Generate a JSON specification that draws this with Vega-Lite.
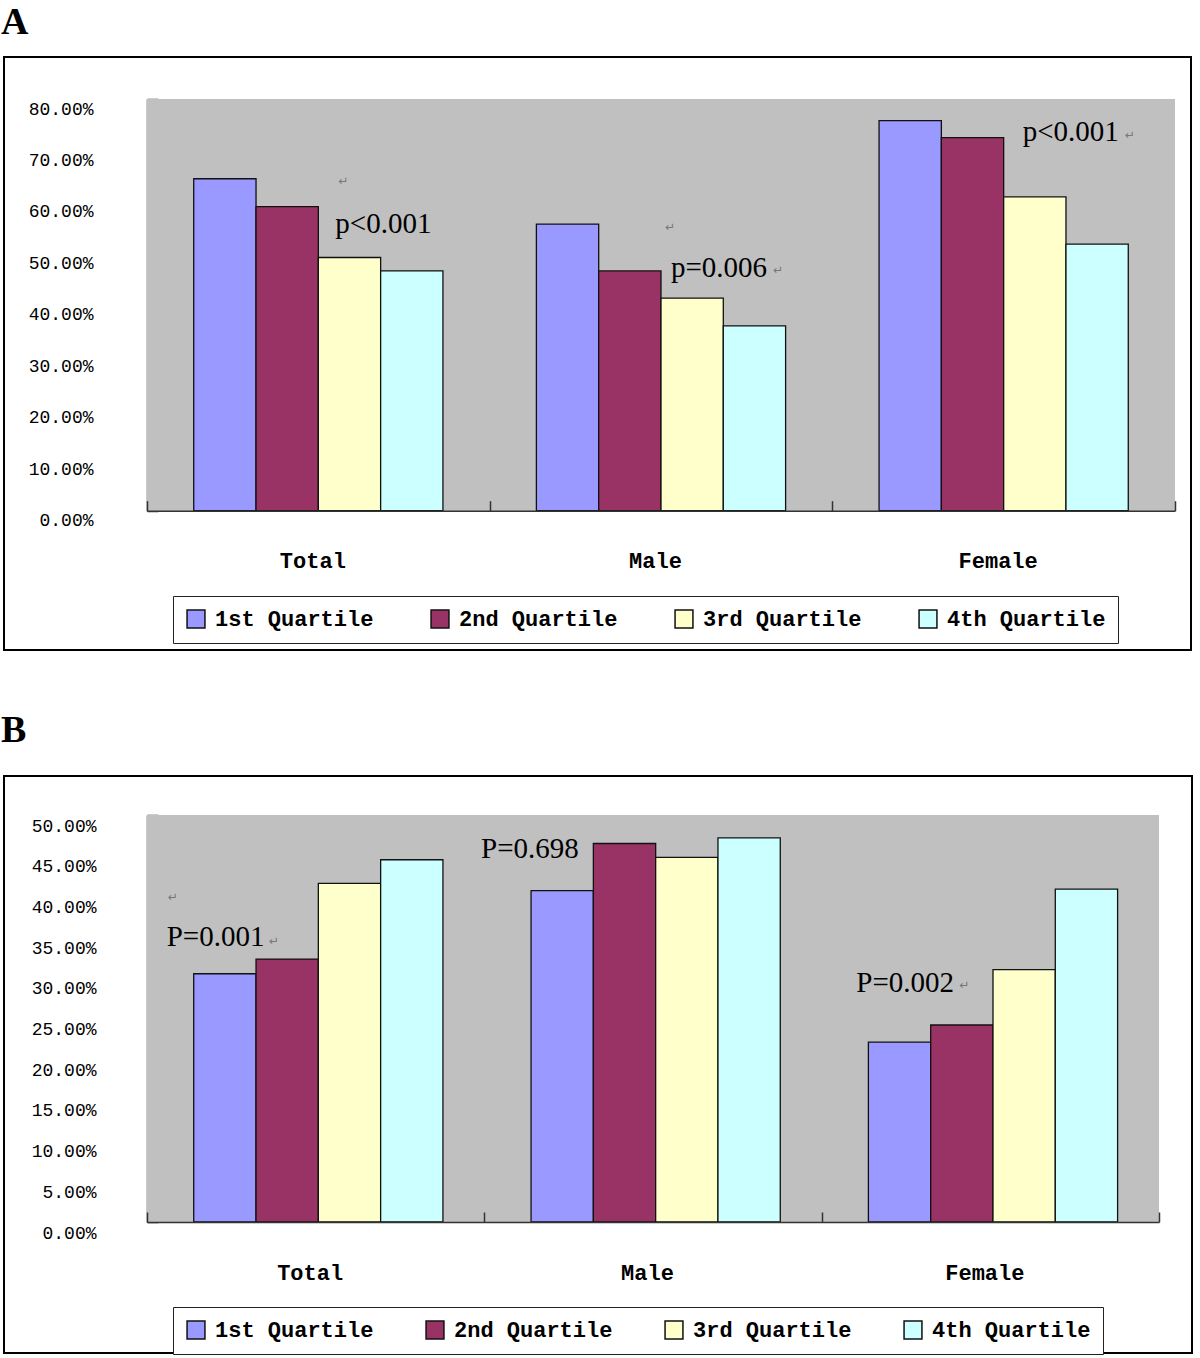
{
  "$schema": "https://vega.github.io/schema/vega-lite/v6.json",
  "padding": {"left": 0, "top": 3, "right": 0, "bottom": 0},
  "spacing": 60,
  "resolve": {"scale": {"color": "independent"}, "legend": {"color": "independent"}},
  "datasets": {
    "a": [
      {"g": "Total", "q": "1st Quartile", "v": 0.645},
      {"g": "Total", "q": "2nd Quartile", "v": 0.591},
      {"g": "Total", "q": "3rd Quartile", "v": 0.492},
      {"g": "Total", "q": "4th Quartile", "v": 0.466},
      {"g": "Male", "q": "1st Quartile", "v": 0.557},
      {"g": "Male", "q": "2nd Quartile", "v": 0.466},
      {"g": "Male", "q": "3rd Quartile", "v": 0.413},
      {"g": "Male", "q": "4th Quartile", "v": 0.359},
      {"g": "Female", "q": "1st Quartile", "v": 0.758},
      {"g": "Female", "q": "2nd Quartile", "v": 0.725},
      {"g": "Female", "q": "3rd Quartile", "v": 0.61},
      {"g": "Female", "q": "4th Quartile", "v": 0.518}
    ],
    "b": [
      {"g": "Total", "q": "1st Quartile", "v": 0.305},
      {"g": "Total", "q": "2nd Quartile", "v": 0.323},
      {"g": "Total", "q": "3rd Quartile", "v": 0.416},
      {"g": "Total", "q": "4th Quartile", "v": 0.445},
      {"g": "Male", "q": "1st Quartile", "v": 0.407},
      {"g": "Male", "q": "2nd Quartile", "v": 0.465},
      {"g": "Male", "q": "3rd Quartile", "v": 0.448},
      {"g": "Male", "q": "4th Quartile", "v": 0.472},
      {"g": "Female", "q": "1st Quartile", "v": 0.221},
      {"g": "Female", "q": "2nd Quartile", "v": 0.242},
      {"g": "Female", "q": "3rd Quartile", "v": 0.31},
      {"g": "Female", "q": "4th Quartile", "v": 0.409}
    ]
  },
  "vconcat": [
    {
      "title": {"text": "A", "anchor": "start", "frame": "group", "font": "Liberation Serif", "fontSize": 38, "fontWeight": "bold", "color": "black", "offset": -23, "baseline": "bottom", "dx": -3},
      "width": 1187,
      "height": 593,
      "view": {"stroke": "black", "strokeWidth": 2, "fill": "white"},
      "data": {"name": "a"},
      "layer": [
        {
          "mark": {"type": "rect", "color": "#C0C0C0"},
          "encoding": {
            "x": {"field": "g", "type": "nominal",
              "scale": {"domain": ["Total", "Male", "Female"], "range": [143, 1171], "paddingInner": 0, "paddingOuter": 0},
              "axis": {"title": null, "orient": "bottom", "offset": -139.3, "labelAngle": 0, "labelFont": "Liberation Mono", "labelFontSize": 22, "labelFontWeight": "bold", "labelColor": "black", "labelOffset": -6, "tickBand": "extent", "tickSize": -10, "tickColor": "#333", "tickWidth": 1.5, "domainColor": "#333", "domainWidth": 1.5, "labelPadding": 50}},
            "y": {"datum": 0, "type": "quantitative",
              "scale": {"domain": [0, 0.8], "range": [453.7, 42], "nice": false},
              "axis": {"title": null, "offset": -143, "values": [0, 0.1, 0.2, 0.3, 0.4, 0.5, 0.6, 0.7, 0.8], "format": ".2%", "labelFont": "Liberation Mono", "labelFontSize": 18, "labelColor": "black", "tickSize": -11, "tickColor": "#333", "tickWidth": 1.5, "domainColor": "#333", "domainWidth": 1.5, "labelPadding": 65, "labelOffset": 10, "grid": false}},
            "y2": {"datum": 0.8}
          }
        },
        {
          "mark": {"type": "bar", "stroke": "#111", "strokeWidth": 1.3},
          "encoding": {
            "x": {"field": "g", "type": "nominal"},
            "xOffset": {"field": "q", "type": "nominal", "scale": {"paddingInner": 0, "paddingOuter": 0.75}},
            "y": {"field": "v", "type": "quantitative"},
            "color": {"field": "q", "type": "nominal",
              "scale": {"domain": ["1st Quartile", "2nd Quartile", "3rd Quartile", "4th Quartile"], "range": ["#9999FF", "#993366", "#FFFFCC", "#CCFFFF"]},
              "legend": {"title": null, "orient": "none", "legendX": 169, "legendY": 539, "direction": "horizontal", "columns": 4, "gridAlign": "all", "columnPadding": 54, "strokeColor": "#222", "fillColor": "white", "padding": 12, "symbolType": "square", "symbolSize": 320, "symbolStrokeColor": "#111", "symbolStrokeWidth": 1.5, "symbolOpacity": 1, "labelFont": "Liberation Mono", "labelFontSize": 22, "labelFontWeight": "bold", "labelColor": "black", "labelOffset": 8, "labelLimit": 400}}
          }
        },
        {
          "data": {"values": [{"g": "Total", "v": 0.557, "t": "p<0.001"}]},
          "mark": {"type": "text", "align": "left", "baseline": "middle", "dx": 17, "font": "Liberation Serif", "fontSize": 29, "color": "black"},
          "encoding": {"x": {"field": "g", "type": "nominal"}, "y": {"field": "v", "type": "quantitative"}, "text": {"field": "t"}}
        },
        {
          "data": {"values": [{"g": "Male", "v": 0.4716, "t": "p=0.006"}]},
          "mark": {"type": "text", "align": "left", "baseline": "middle", "dx": 10, "font": "Liberation Serif", "fontSize": 29, "color": "black"},
          "encoding": {"x": {"field": "g", "type": "nominal"}, "y": {"field": "v", "type": "quantitative"}, "text": {"field": "t"}}
        },
        {
          "data": {"values": [{"g": "Female", "v": 0.7365, "t": "p<0.001"}]},
          "mark": {"type": "text", "align": "left", "baseline": "middle", "dx": 19, "font": "Liberation Serif", "fontSize": 29, "color": "black"},
          "encoding": {"x": {"field": "g", "type": "nominal"}, "y": {"field": "v", "type": "quantitative"}, "text": {"field": "t"}}
        },
        {
          "data": {"values": [{"g": "Total", "v": 0.641, "t": "↵"}]},
          "mark": {"type": "text", "align": "left", "baseline": "middle", "dx": 20, "font": "DejaVu Sans", "fontSize": 12, "color": "#777"},
          "encoding": {"x": {"field": "g", "type": "nominal"}, "y": {"field": "v", "type": "quantitative"}, "text": {"field": "t"}}
        },
        {
          "data": {"values": [{"g": "Male", "v": 0.552, "t": "↵"}]},
          "mark": {"type": "text", "align": "left", "baseline": "middle", "dx": 4, "font": "DejaVu Sans", "fontSize": 12, "color": "#777"},
          "encoding": {"x": {"field": "g", "type": "nominal"}, "y": {"field": "v", "type": "quantitative"}, "text": {"field": "t"}}
        },
        {
          "data": {"values": [{"g": "Male", "v": 0.468, "t": "↵"}]},
          "mark": {"type": "text", "align": "left", "baseline": "middle", "dx": 112, "font": "DejaVu Sans", "fontSize": 12, "color": "#777"},
          "encoding": {"x": {"field": "g", "type": "nominal"}, "y": {"field": "v", "type": "quantitative"}, "text": {"field": "t"}}
        },
        {
          "data": {"values": [{"g": "Female", "v": 0.73, "t": "↵"}]},
          "mark": {"type": "text", "align": "left", "baseline": "middle", "dx": 121, "font": "DejaVu Sans", "fontSize": 12, "color": "#777"},
          "encoding": {"x": {"field": "g", "type": "nominal"}, "y": {"field": "v", "type": "quantitative"}, "text": {"field": "t"}}
        }
      ]
    },
    {
      "title": {"text": "B", "anchor": "start", "frame": "group", "font": "Liberation Serif", "fontSize": 38, "fontWeight": "bold", "color": "black", "offset": -12, "baseline": "bottom", "dx": -3},
      "width": 1188,
      "height": 577,
      "view": {"stroke": "black", "strokeWidth": 2, "fill": "white"},
      "data": {"name": "b"},
      "layer": [
        {
          "mark": {"type": "rect", "color": "#C0C0C0"},
          "encoding": {
            "x": {"field": "g", "type": "nominal",
              "scale": {"domain": ["Total", "Male", "Female"], "range": [143, 1155], "paddingInner": 0, "paddingOuter": 0},
              "axis": {"title": null, "orient": "bottom", "offset": -131, "labelAngle": 0, "labelFont": "Liberation Mono", "labelFontSize": 22, "labelFontWeight": "bold", "labelColor": "black", "labelOffset": -6, "tickBand": "extent", "tickSize": -10, "tickColor": "#333", "tickWidth": 1.5, "domainColor": "#333", "domainWidth": 1.5, "labelPadding": 50}},
            "y": {"datum": 0, "type": "quantitative",
              "scale": {"domain": [0, 0.5], "range": [446, 39], "nice": false},
              "axis": {"title": null, "offset": -143, "values": [0, 0.05, 0.1, 0.15, 0.2, 0.25, 0.3, 0.35, 0.4, 0.45, 0.5], "format": ".2%", "labelFont": "Liberation Mono", "labelFontSize": 18, "labelColor": "black", "tickSize": -11, "tickColor": "#333", "tickWidth": 1.5, "domainColor": "#333", "domainWidth": 1.5, "labelPadding": 62, "labelOffset": 11, "grid": false}},
            "y2": {"datum": 0.5}
          }
        },
        {
          "mark": {"type": "bar", "stroke": "#111", "strokeWidth": 1.3},
          "encoding": {
            "x": {"field": "g", "type": "nominal"},
            "xOffset": {"field": "q", "type": "nominal", "scale": {"paddingInner": 0, "paddingOuter": 0.77}},
            "y": {"field": "v", "type": "quantitative"},
            "color": {"field": "q", "type": "nominal",
              "scale": {"domain": ["1st Quartile", "2nd Quartile", "3rd Quartile", "4th Quartile"], "range": ["#9999FF", "#993366", "#FFFFCC", "#CCFFFF"]},
              "legend": {"title": null, "orient": "none", "legendX": 169, "legendY": 531, "direction": "horizontal", "columns": 4, "gridAlign": "all", "columnPadding": 49, "strokeColor": "#222", "fillColor": "white", "padding": 12, "symbolType": "square", "symbolSize": 320, "symbolStrokeColor": "#111", "symbolStrokeWidth": 1.5, "symbolOpacity": 1, "labelFont": "Liberation Mono", "labelFontSize": 22, "labelFontWeight": "bold", "labelColor": "black", "labelOffset": 8, "labelLimit": 400}}
          }
        },
        {
          "data": {"values": [{"g": "Total", "v": 0.35, "t": "P=0.001"}]},
          "mark": {"type": "text", "align": "left", "baseline": "middle", "dx": -149, "font": "Liberation Serif", "fontSize": 29, "color": "black"},
          "encoding": {"x": {"field": "g", "type": "nominal"}, "y": {"field": "v", "type": "quantitative"}, "text": {"field": "t"}}
        },
        {
          "data": {"values": [{"g": "Male", "v": 0.4577, "t": "P=0.698"}]},
          "mark": {"type": "text", "align": "left", "baseline": "middle", "dx": -172, "font": "Liberation Serif", "fontSize": 29, "color": "black"},
          "encoding": {"x": {"field": "g", "type": "nominal"}, "y": {"field": "v", "type": "quantitative"}, "text": {"field": "t"}}
        },
        {
          "data": {"values": [{"g": "Female", "v": 0.294, "t": "P=0.002"}]},
          "mark": {"type": "text", "align": "left", "baseline": "middle", "dx": -134, "font": "Liberation Serif", "fontSize": 29, "color": "black"},
          "encoding": {"x": {"field": "g", "type": "nominal"}, "y": {"field": "v", "type": "quantitative"}, "text": {"field": "t"}}
        },
        {
          "data": {"values": [{"g": "Total", "v": 0.3996, "t": "↵"}]},
          "mark": {"type": "text", "align": "left", "baseline": "middle", "dx": -148, "font": "DejaVu Sans", "fontSize": 12, "color": "#777"},
          "encoding": {"x": {"field": "g", "type": "nominal"}, "y": {"field": "v", "type": "quantitative"}, "text": {"field": "t"}}
        },
        {
          "data": {"values": [{"g": "Total", "v": 0.345, "t": "↵"}]},
          "mark": {"type": "text", "align": "left", "baseline": "middle", "dx": -47, "font": "DejaVu Sans", "fontSize": 12, "color": "#777"},
          "encoding": {"x": {"field": "g", "type": "nominal"}, "y": {"field": "v", "type": "quantitative"}, "text": {"field": "t"}}
        },
        {
          "data": {"values": [{"g": "Female", "v": 0.291, "t": "↵"}]},
          "mark": {"type": "text", "align": "left", "baseline": "middle", "dx": -31, "font": "DejaVu Sans", "fontSize": 12, "color": "#777"},
          "encoding": {"x": {"field": "g", "type": "nominal"}, "y": {"field": "v", "type": "quantitative"}, "text": {"field": "t"}}
        }
      ]
    }
  ]
}
